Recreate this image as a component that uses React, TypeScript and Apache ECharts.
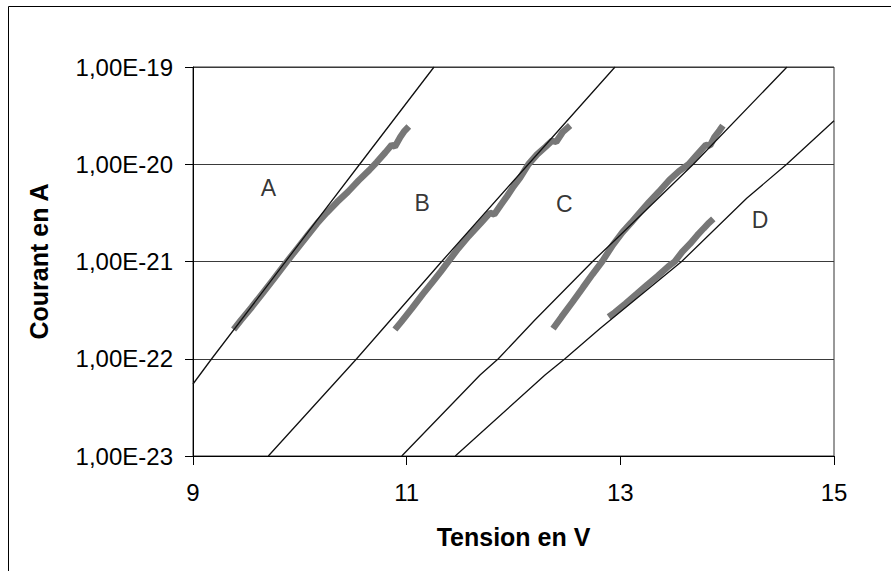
import React, { useEffect, useRef } from "react";
import * as echarts from "echarts";

// Axis ticks
const xTicks = [9, 11, 13, 15];
const yTicks = [1e-23, 1e-22, 1e-21, 1e-20, 1e-19];
const yTickLabels = ["1,00E-23", "1,00E-22", "1,00E-21", "1,00E-20", "1,00E-19"];

// Measured data (gray thick curves): [tension V, courant A]
const measA: [number, number][] = [
  [9.38, 2.0e-22], [9.45, 2.5e-22], [9.55, 3.4e-22], [9.65, 4.7e-22], [9.75, 6.5e-22],
  [9.88, 1.0e-21], [9.98, 1.38e-21], [10.08, 1.9e-21], [10.16, 2.45e-21], [10.25, 3.16e-21],
  [10.35, 4.1e-21], [10.45, 5.2e-21], [10.55, 6.8e-21], [10.65, 8.7e-21], [10.72, 1.05e-20],
  [10.8, 1.32e-20], [10.86, 1.58e-20], [10.89, 1.52e-20], [10.94, 1.9e-20], [10.98, 2.2e-20],
  [11.02, 2.45e-20],
];
const measB: [number, number][] = [
  [10.89, 2.0e-22], [10.95, 2.4e-22], [11.05, 3.3e-22], [11.15, 4.6e-22], [11.25, 6.3e-22],
  [11.32, 7.9e-22], [11.39, 1.0e-21], [11.48, 1.35e-21], [11.58, 1.82e-21], [11.69, 2.45e-21],
  [11.78, 3.16e-21], [11.82, 3.05e-21], [11.88, 3.8e-21], [11.94, 4.7e-21], [12.0, 5.9e-21],
  [12.06, 7.2e-21], [12.14, 1.0e-20], [12.22, 1.26e-20], [12.3, 1.51e-20], [12.36, 1.74e-20],
  [12.4, 1.7e-20], [12.46, 2.14e-20], [12.53, 2.5e-20],
];
const measC: [number, number][] = [
  [12.37, 2.04e-22], [12.45, 2.7e-22], [12.55, 3.8e-22], [12.65, 5.4e-22], [12.74, 7.4e-22],
  [12.83, 1.0e-21], [12.93, 1.48e-21], [13.02, 2.0e-21], [13.1, 2.5e-21], [13.18, 3.16e-21],
  [13.27, 4.1e-21], [13.36, 5.2e-21], [13.46, 6.9e-21], [13.55, 8.5e-21], [13.64, 1.0e-20],
  [13.72, 1.26e-20], [13.8, 1.58e-20], [13.84, 1.56e-20], [13.88, 1.9e-20], [13.93, 2.24e-20],
  [13.96, 2.5e-20],
];
const measD: [number, number][] = [
  [12.89, 2.7e-22], [12.95, 3.0e-22], [13.05, 3.7e-22], [13.15, 4.6e-22], [13.25, 5.75e-22],
  [13.35, 7.1e-22], [13.45, 8.9e-22], [13.51, 1.0e-21], [13.58, 1.26e-21], [13.65, 1.51e-21],
  [13.72, 1.86e-21], [13.78, 2.19e-21], [13.83, 2.5e-21], [13.87, 2.75e-21],
];

// Model curves (black thin lines)
const modelA: [number, number][] = [
  [9.0, 5.5e-23], [9.175, 1.0e-22], [9.6, 4.1e-22], [10.17, 2.75e-21], [10.56, 1.0e-20], [11.256, 1.0e-19],
];
const modelB: [number, number][] = [
  [9.705, 1.0e-23], [10.532, 1.0e-22], [11.328, 1.0e-21], [12.139, 1.0e-20], [12.95, 1.0e-19],
];
const modelC: [number, number][] = [
  [10.954, 1.0e-23], [11.687, 6.8e-23], [11.858, 1.0e-22], [12.2, 2.5e-22], [12.74, 1.0e-21],
  [13.0, 1.87e-21], [13.683, 1.0e-20], [14.56, 1.0e-19],
];
const modelD: [number, number][] = [
  [11.455, 1.0e-23], [12.295, 6.8e-23], [12.482, 1.0e-22], [12.81, 2.05e-22], [13.574, 1.0e-21],
  [14.183, 4.47e-21], [14.557, 1.0e-20], [15.0, 2.8e-20],
];

// Curve labels
const curveNames = ["A", "B", "C", "D"];
const curveLabelX = [9.705, 11.146, 12.476, 14.307];
const curveLabelY = [5.66e-21, 3.98e-21, 3.9e-21, 2.67e-21];

const FONT = "'Liberation Sans', Arial, sans-serif";

// decade (log10) coordinates for the value axis
const lg = (v: number) => Math.log10(v);
const toLog = (d: [number, number][]) => d.map(([x, y]) => [x, lg(y)]);

export default function App() {
  const ref = useRef<HTMLDivElement>(null);

  useEffect(() => {
    if (!ref.current) return;
    const chart = echarts.init(ref.current, undefined, { renderer: "svg" });

    const measured = [measA, measB, measC, measD];
    const models = [modelA, modelB, modelC, modelD];
    const yMin = Math.round(lg(yTicks[0]));
    const yMax = Math.round(lg(yTicks[yTicks.length - 1]));

    const series: any[] = [];
    measured.forEach((d, i) => {
      series.push({
        name: "mesure " + curveNames[i],
        type: "line",
        data: toLog(d),
        showSymbol: false,
        symbol: "none",
        lineStyle: { color: "#777777", width: 6.5, join: "bevel" },
        z: 2,
      });
    });
    models.forEach((d, i) => {
      series.push({
        name: "modele " + curveNames[i],
        type: "line",
        data: toLog(d),
        showSymbol: false,
        symbol: "none",
        lineStyle: { color: "#111111", width: 1.3 },
        z: 3,
      });
    });
    series.push({
      name: "labels",
      type: "scatter",
      symbol: "circle",
      symbolSize: 1,
      itemStyle: { color: "rgba(255,255,255,0)" },
      data: curveNames.map((n, i) => ({ name: n, value: [curveLabelX[i], lg(curveLabelY[i])] })),
      label: {
        show: true,
        position: "inside",
        formatter: (p: any) => p.name,
        color: "#000",
        fontFamily: FONT,
        fontSize: 23,
      },
      z: 4,
    });

    chart.setOption({
      animation: false,
      backgroundColor: "#ffffff",
      textStyle: { fontFamily: FONT },
      grid: {
        left: 193,
        top: 67,
        width: 641,
        height: 389,
        show: true,
        borderColor: "#333",
        borderWidth: 1,
      },
      graphic: [
        {
          type: "rect",
          shape: { x: 8.5, y: 6.5, width: 1200, height: 1200 },
          style: { fill: "none", stroke: "#000", lineWidth: 1 },
          silent: true,
          z: 0,
        },
      ],
      xAxis: {
        type: "value",
        min: xTicks[0],
        max: xTicks[xTicks.length - 1],
        name: "Tension en V",
        nameLocation: "middle",
        nameGap: 68,
        nameTextStyle: { fontSize: 25, fontWeight: "bold", color: "#000", fontFamily: FONT },
        axisLine: { show: true, lineStyle: { color: "#000", width: 1 } },
        axisTick: { show: true, length: 9, inside: false, customValues: xTicks, lineStyle: { color: "#000" } },
        axisLabel: { customValues: xTicks, fontSize: 24, color: "#000", margin: 24, fontFamily: FONT },
        splitLine: { show: false },
      },
      yAxis: {
        type: "value",
        min: yMin,
        max: yMax,
        interval: 1,
        name: "Courant en A",
        nameLocation: "middle",
        nameGap: 142,
        nameTextStyle: { fontSize: 25, fontWeight: "bold", color: "#000", fontFamily: FONT },
        axisLine: { show: true, lineStyle: { color: "#000", width: 1 } },
        axisTick: { show: true, length: 8, inside: false, lineStyle: { color: "#000" } },
        axisLabel: {
          fontSize: 24,
          color: "#000",
          margin: 20,
          fontFamily: FONT,
          formatter: (v: number) => yTickLabels[Math.round(v) - yMin] ?? "",
        },
        splitLine: { show: true, lineStyle: { color: "#3a3a3a", width: 1 } },
      },
      series,
    });

    return () => {
      chart.dispose();
    };
  }, []);

  return (
    <div
      ref={ref}
      style={{ position: "fixed", left: 0, top: 0, width: 891, height: 571, background: "#fff" }}
    />
  );
}
